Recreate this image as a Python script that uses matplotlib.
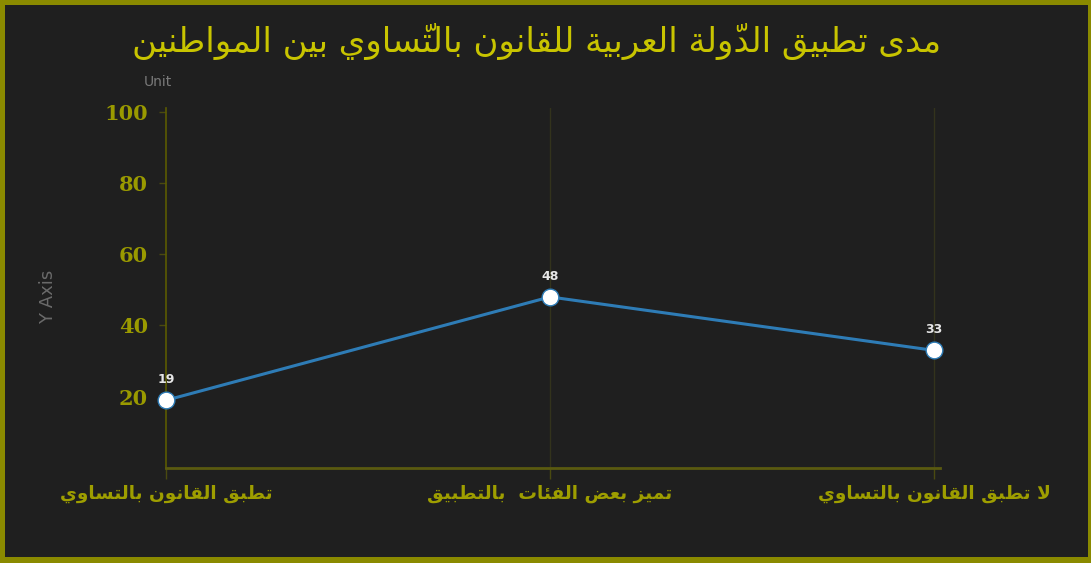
import matplotlib
matplotlib.use("Agg")
import matplotlib.pyplot as plt
from matplotlib.patches import Rectangle

# ---------------- data ----------------
title_text = "مدى تطبيق الدّولة العربية للقانون بالتّساوي بين المواطنين"
categories = ["تطبق القانون بالتساوي", "تميز بعض الفئات  بالتطبيق", "لا تطبق القانون بالتساوي"]
values = [19, 48, 33]
y_ticks = [20, 40, 60, 80, 100]
y_label = "Y Axis"
unit_label = "Unit"

# ---------------- minimal Arabic shaping (presentation forms + RTL) ----------------
_F = {
    'ء': ('\uFE80', None, None, None),
    'آ': ('\uFE81', '\uFE82', None, None),
    'أ': ('\uFE83', '\uFE84', None, None),
    'ؤ': ('\uFE85', '\uFE86', None, None),
    'إ': ('\uFE87', '\uFE88', None, None),
    'ئ': ('\uFE89', '\uFE8A', '\uFE8B', '\uFE8C'),
    'ا': ('\uFE8D', '\uFE8E', None, None),
    'ب': ('\uFE8F', '\uFE90', '\uFE91', '\uFE92'),
    'ة': ('\uFE93', '\uFE94', None, None),
    'ت': ('\uFE95', '\uFE96', '\uFE97', '\uFE98'),
    'ث': ('\uFE99', '\uFE9A', '\uFE9B', '\uFE9C'),
    'ج': ('\uFE9D', '\uFE9E', '\uFE9F', '\uFEA0'),
    'ح': ('\uFEA1', '\uFEA2', '\uFEA3', '\uFEA4'),
    'خ': ('\uFEA5', '\uFEA6', '\uFEA7', '\uFEA8'),
    'د': ('\uFEA9', '\uFEAA', None, None),
    'ذ': ('\uFEAB', '\uFEAC', None, None),
    'ر': ('\uFEAD', '\uFEAE', None, None),
    'ز': ('\uFEAF', '\uFEB0', None, None),
    'س': ('\uFEB1', '\uFEB2', '\uFEB3', '\uFEB4'),
    'ش': ('\uFEB5', '\uFEB6', '\uFEB7', '\uFEB8'),
    'ص': ('\uFEB9', '\uFEBA', '\uFEBB', '\uFEBC'),
    'ض': ('\uFEBD', '\uFEBE', '\uFEBF', '\uFEC0'),
    'ط': ('\uFEC1', '\uFEC2', '\uFEC3', '\uFEC4'),
    'ظ': ('\uFEC5', '\uFEC6', '\uFEC7', '\uFEC8'),
    'ع': ('\uFEC9', '\uFECA', '\uFECB', '\uFECC'),
    'غ': ('\uFECD', '\uFECE', '\uFECF', '\uFED0'),
    'ف': ('\uFED1', '\uFED2', '\uFED3', '\uFED4'),
    'ق': ('\uFED5', '\uFED6', '\uFED7', '\uFED8'),
    'ك': ('\uFED9', '\uFEDA', '\uFEDB', '\uFEDC'),
    'ل': ('\uFEDD', '\uFEDE', '\uFEDF', '\uFEE0'),
    'م': ('\uFEE1', '\uFEE2', '\uFEE3', '\uFEE4'),
    'ن': ('\uFEE5', '\uFEE6', '\uFEE7', '\uFEE8'),
    'ه': ('\uFEE9', '\uFEEA', '\uFEEB', '\uFEEC'),
    'و': ('\uFEED', '\uFEEE', None, None),
    'ى': ('\uFEEF', '\uFEF0', None, None),
    'ي': ('\uFEF1', '\uFEF2', '\uFEF3', '\uFEF4'),
}
_MARKS = set(chr(c) for c in range(0x064B, 0x0653))


def shape(text):
    chars = list(text)
    n = len(chars)

    def prev_letter(i):
        j = i - 1
        while j >= 0 and chars[j] in _MARKS:
            j -= 1
        return chars[j] if j >= 0 else None

    def next_idx(i):
        j = i + 1
        while j < n and chars[j] in _MARKS:
            j += 1
        return j if j < n else None

    out = []
    i = 0
    while i < n:
        c = chars[i]
        if c in _MARKS or c not in _F:
            out.append(c)
            i += 1
            continue
        p = prev_letter(i)
        jp = p is not None and p in _F and _F[p][2] is not None
        ni = next_idx(i)
        nxt = chars[ni] if ni is not None else None
        if c == 'ل' and nxt == 'ا':
            out.append('\uFEFC' if jp else '\uFEFB')
            out.extend(m for m in chars[i + 1:ni] if m in _MARKS)
            i = ni + 1
            continue
        jn = _F[c][2] is not None and nxt is not None and nxt in _F
        iso, fin, ini, med = _F[c]
        if jp and jn:
            g = med
        elif jp:
            g = fin
        elif jn:
            g = ini
        else:
            g = iso
        out.append(g)
        i += 1
    # visual order: full reversal (marks end up just before their base glyph)
    return "".join(reversed(out))


# ---------------- figure ----------------
W, H = 1091, 563
fig = plt.figure(figsize=(W / 100, H / 100), dpi=100)
fig.patch.set_facecolor('#8a8a00')
bg = '#1f1f1f'
fig.add_artist(Rectangle((5 / W, 6 / H), (1088 - 5) / W, (558 - 6) / H,
                         transform=fig.transFigure, facecolor=bg, edgecolor='none', zorder=-5))

ax = fig.add_axes([166 / W, (H - 468) / H, (940 - 166) / W, (468 - 108) / H])
ax.set_facecolor('none')

x = list(range(len(categories)))
ax.plot(x, values, color='#2e7cb6', linewidth=2.2, zorder=3,
        marker='o', markersize=12, markerfacecolor='white',
        markeredgecolor='#2e7cb6', markeredgewidth=1.0, clip_on=False)
for xi, v in zip(x, values):
    ax.annotate(str(v), (xi, v), xytext=(0, 10), textcoords='offset points',
                ha='center', va='bottom', color='#e6e6e6', fontsize=9,
                fontweight='bold', family='DejaVu Sans', zorder=4)

ax.set_xlim(0, 2.0156)
ax.set_ylim(0, 101)
ax.set_yticks(y_ticks)
ax.set_yticklabels([str(t) for t in y_ticks], family='DejaVu Serif',
                   fontweight='bold', fontsize=15, color='#9a9a00')
ax.set_xticks(x)
ax.set_xticklabels([shape(c) for c in categories], family='DejaVu Sans',
                   fontweight='bold', fontsize=13.3, color='#9e9e00')

ax.tick_params(axis='y', length=5, width=1, color='#4a4a10', pad=8)
ax.tick_params(axis='x', length=8, width=1, color='#4a4a10', pad=4)

for s in ['top', 'right']:
    ax.spines[s].set_visible(False)
ax.spines['left'].set_color('#5a5a00')
ax.spines['left'].set_linewidth(1.2)
ax.spines['bottom'].set_color('#5a5a10')
ax.spines['bottom'].set_linewidth(2)

# faint vertical gridlines at categories 2 and 3
for xi in x[1:]:
    ax.axvline(xi, color='#33331c', linewidth=1, zorder=1)

fig.text(537 / W, 1 - 42 / H, shape(title_text), ha='center', va='center',
         color='#c8c400', fontsize=24.5, family='DejaVu Sans')
fig.text(158 / W, 1 - 82 / H, unit_label, ha='center', va='center',
         color='#7a7a7a', fontsize=10)
fig.text(48 / W, 1 - 297 / H, y_label, ha='center', va='center', rotation=90,
         color='#6a6a6a', fontsize=13)

fig.savefig('out.png', dpi=100, facecolor=fig.get_facecolor())
